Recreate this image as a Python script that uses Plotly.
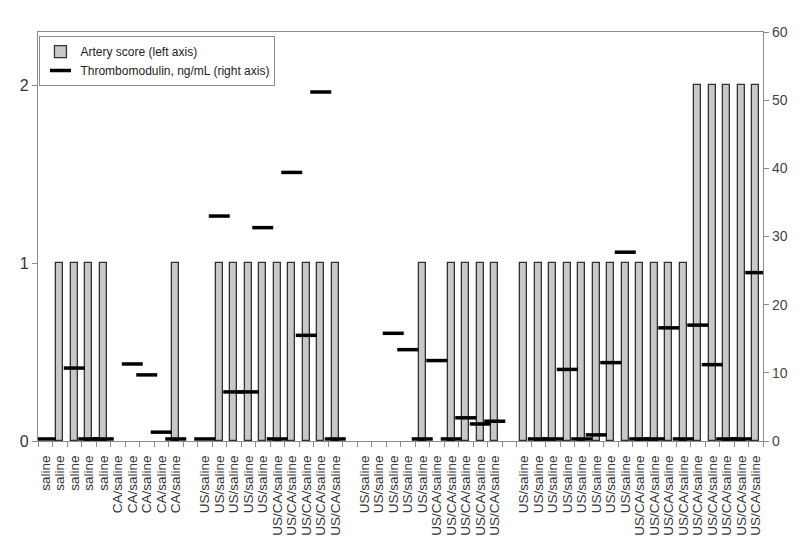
import plotly.graph_objects as go

# one entry per slot on the x axis, "" marks the empty spacer slots between groups
labels = (["saline"] * 5 + ["CA/saline"] * 5 + [""] +
          ["US/saline"] * 5 + ["US/CA/saline"] * 5 + [""] +
          ["US/saline"] * 5 + ["US/CA/saline"] * 5 + [""] +
          ["US/saline"] * 8 + ["US/CA/saline"] * 9)

# artery score (left axis); None = spacer
artery_score = [0, 1, 1, 1, 1, 0, 0, 0, 0, 1, None,
                0, 1, 1, 1, 1, 1, 1, 1, 1, 1, None,
                0, 0, 0, 0, 1, 0, 1, 1, 1, 1, None,
                1, 1, 1, 1, 1, 1, 1, 1, 1, 1, 1, 1, 2, 2, 2, 2, 2]

# thrombomodulin, ng/mL (right axis); None = not measured / spacer
thrombomodulin = [0.3, None, 10.7, 0.3, 0.3, None, 11.3, 9.7, 1.3, 0.3, None,
                  0.3, 33.0, 7.2, 7.2, 31.3, 0.3, 39.4, 15.5, 51.2, 0.3, None,
                  None, None, 15.8, 13.4, 0.3, 11.8, 0.3, 3.4, 2.5, 2.9, None,
                  None, 0.3, 0.3, 10.5, 0.3, 0.9, 11.5, 27.7, 0.3, 0.3, 16.6, 0.3,
                  17.0, 11.2, 0.3, 0.3, 24.7]

x = list(range(len(labels)))
# a score of 0 shows no bar at all
bar_y = [v if v else None for v in artery_score]

fig = go.Figure()

fig.add_trace(go.Bar(
    x=x, y=bar_y, width=0.5,
    name="Artery score (left axis)",
    marker=dict(color="#c8c8c8", line=dict(color="#333333", width=1.3)),
))

fig.add_trace(go.Scatter(
    x=x, y=thrombomodulin, yaxis="y2", mode="markers",
    name="Thrombomodulin, ng/mL (right axis)",
    marker=dict(symbol="line-ew", size=15, color="black",
                line=dict(color="black", width=3.5)),
))

axis_grey = "#8c8c8c"
font_main = "Liberation Sans, Arial, sans-serif"

# page body has an 8px margin, so margins are trimmed to land the plot area
# where the reference has it
fig.update_layout(
    width=800, height=540,
    margin=dict(l=26, r=45, t=24, b=107),
    plot_bgcolor="white", paper_bgcolor="white",
    font=dict(family=font_main, color="#333333"),
    showlegend=True,
    legend=dict(x=0.002, y=0.99, xanchor="left", yanchor="top",
                bgcolor="white", bordercolor=axis_grey, borderwidth=1,
                font=dict(size=12, color="#222222"),
                itemwidth=30, tracegroupgap=0),
    bargap=0,
    xaxis=dict(
        range=[-0.5, len(labels) - 0.5],
        tickmode="array", tickvals=x, ticktext=labels,
        tickangle=-90, ticks="", ticklabelstandoff=8,
        tickfont=dict(size=13.5, color="#333333"),
        showline=True, linecolor=axis_grey, linewidth=1.2, mirror=True,
        showgrid=False, zeroline=False,
        minor=dict(tick0=-0.5, dtick=1, ticks="outside", ticklen=5,
                   tickcolor=axis_grey, showgrid=False),
    ),
    yaxis=dict(
        range=[0, 2.3], tickvals=[0, 1, 2],
        ticks="outside", ticklen=5, tickcolor=axis_grey,
        tickfont=dict(size=16, color="#333333"),
        showline=True, linecolor=axis_grey, linewidth=1.2,
        showgrid=False, zeroline=False,
    ),
    yaxis2=dict(
        range=[0, 60], dtick=10, overlaying="y", side="right",
        ticks="outside", ticklen=5, tickcolor=axis_grey,
        tickfont=dict(size=14, color="#444444"),
        showline=True, linecolor=axis_grey, linewidth=1.2,
        showgrid=False, zeroline=False,
    ),
)

fig.write_html("out.html")
